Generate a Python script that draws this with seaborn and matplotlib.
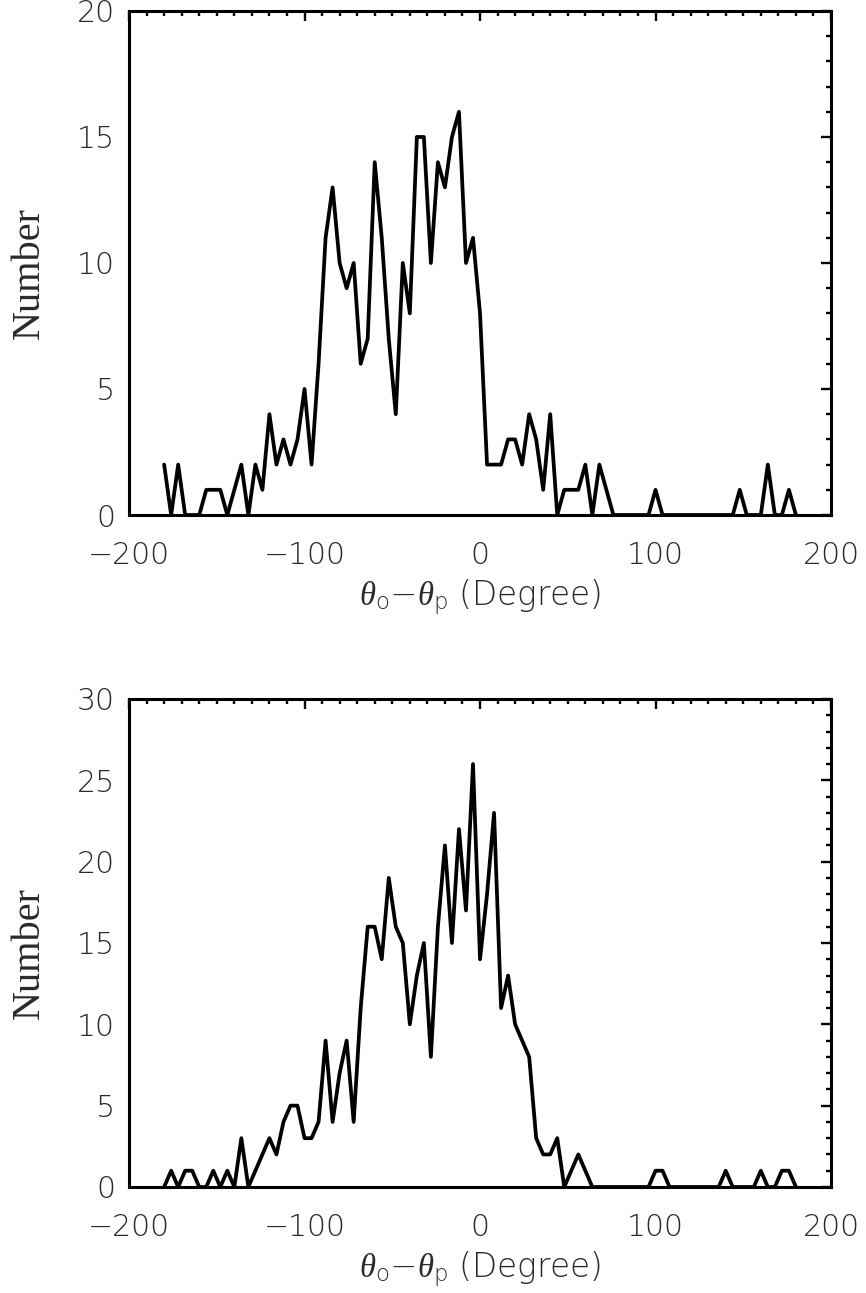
import numpy as np
import pandas as pd
import matplotlib
matplotlib.use("Agg")
import matplotlib.pyplot as plt
from matplotlib.ticker import MultipleLocator
import seaborn as sns

# Angle-difference histograms, 4-degree bins centred from -180 to 180
bin_centers = np.arange(-180, 184, 4)

counts_top = [
    2, 0, 2, 0, 0, 0, 1, 1, 1, 0,
    1, 2, 0, 2, 1, 4, 2, 3, 2, 3,
    5, 2, 6, 11, 13, 10, 9, 10, 6, 7,
    14, 11, 7, 4, 10, 8, 15, 15, 10, 14,
    13, 15, 16, 10, 11, 8, 2, 2, 2, 3,
    3, 2, 4, 3, 1, 4, 0, 1, 1, 1,
    2, 0, 2, 1, 0, 0, 0, 0, 0, 0,
    1, 0, 0, 0, 0, 0, 0, 0, 0, 0,
    0, 0, 1, 0, 0, 0, 2, 0, 0, 1, 0,
]

counts_bottom = [
    0, 1, 0, 1, 1, 0, 0, 1, 0, 1,
    0, 3, 0, 1, 2, 3, 2, 4, 5, 5,
    3, 3, 4, 9, 4, 7, 9, 4, 11, 16,
    16, 14, 19, 16, 15, 10, 13, 15, 8, 16,
    21, 15, 22, 17, 26, 14, 18, 23, 11, 13,
    10, 9, 8, 3, 2, 2, 3, 0, 1, 2,
    1, 0, 0, 0, 0, 0, 0, 0, 0, 0,
    1, 1, 0, 0, 0, 0, 0, 0, 0, 0,
    1, 0, 0, 0, 0, 1, 0, 0, 1, 1, 0,
]

x_ticks = [-200, -100, 0, 100, 200]
y_limits = [20, 30]
x_label = r"$\theta_{\rm o}{-}\theta_{\rm p}$ (Degree)"
y_label = "Number"

sns.set_theme(style="white")
plt.rcParams["font.family"] = ["DejaVu Sans"]
plt.rcParams["mathtext.fontset"] = "custom"
plt.rcParams["mathtext.it"] = "Liberation Serif:italic"
plt.rcParams["mathtext.rm"] = "DejaVu Sans:light"
plt.rcParams["mathtext.sf"] = "DejaVu Sans"
plt.rcParams["axes.unicode_minus"] = True

fig = plt.figure(figsize=(8.66, 12.93), dpi=100)
ax_top = fig.add_axes([0.149, 0.6017, 0.8106, 0.3898])
ax_bot = fig.add_axes([0.149, 0.0820, 0.8106, 0.3774])

tick_font = dict(family="DejaVu Sans", size=21.5, weight="light", color="#2a2a2a")

for ax, counts, ymax in [(ax_top, counts_top, y_limits[0]),
                         (ax_bot, counts_bottom, y_limits[1])]:
    df = pd.DataFrame({"angle": bin_centers, "count": counts})
    sns.lineplot(data=df, x="angle", y="count", ax=ax, color="black",
                 linewidth=2.7, estimator=None, sort=False)
    ax.set_xlim(-200, 200)
    ax.set_ylim(0, ymax)
    ax.set_xticks(x_ticks)
    ax.xaxis.set_minor_locator(MultipleLocator(10))
    ax.yaxis.set_major_locator(MultipleLocator(5))
    ax.yaxis.set_minor_locator(MultipleLocator(1))
    ax.tick_params(which="both", direction="in", top=True, right=True,
                   color="black", width=1.7)
    ax.tick_params(which="major", length=7.5)
    ax.tick_params(which="minor", length=3.8)
    ax.tick_params(axis="x", which="major", pad=19)
    ax.tick_params(axis="y", which="major", pad=10)
    for lbl in ax.get_xticklabels() + ax.get_yticklabels():
        lbl.set_fontfamily(tick_font["family"])
        lbl.set_fontsize(tick_font["size"])
        lbl.set_fontweight(tick_font["weight"])
        lbl.set_color(tick_font["color"])
    for sp in ax.spines.values():
        sp.set_linewidth(2.2)
        sp.set_color("black")
    ax.set_xlabel(x_label, fontsize=23.5, fontweight="light", color="#2a2a2a",
                  labelpad=5)
    ax.set_ylabel(y_label, fontsize=29, family="Liberation Serif",
                  color="#2a2a2a")
    ax.yaxis.set_label_coords(-0.115, 0.48)

fig.savefig("out.png", dpi=100, facecolor="white")
